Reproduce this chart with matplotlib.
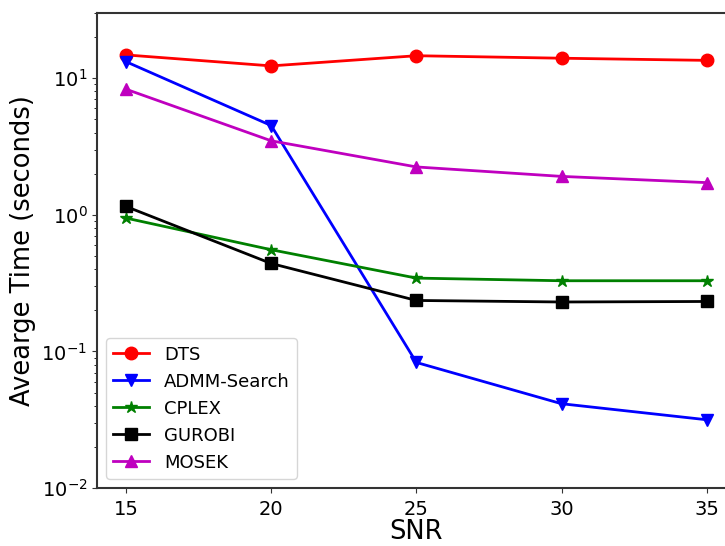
import matplotlib
matplotlib.use("Agg")
import matplotlib.pyplot as plt

snr = [15, 20, 25, 30, 35]
dts = [14.8, 12.3, 14.6, 14.0, 13.5]
admm = [13.2, 4.5, 0.083, 0.0414, 0.0316]
cplex = [0.946, 0.555, 0.344, 0.329, 0.329]
gurobi = [1.15, 0.44, 0.236, 0.23, 0.232]
mosek = [8.3, 3.48, 2.24, 1.91, 1.72]

fig = plt.figure(figsize=(7.25, 5.46), dpi=100)
# right edge of the axes runs past the figure, as in the reference
ax = fig.add_axes([0.1338, 0.1062, 0.881, 0.870])

ax.plot(snr, dts, color="r", marker="o", markersize=9, linewidth=2, label="DTS")
ax.plot(snr, admm, color="b", marker="v", markersize=9, linewidth=2, label="ADMM-Search")
ax.plot(snr, cplex, color="g", marker="*", markersize=9, linewidth=2, label="CPLEX")
ax.plot(snr, gurobi, color="k", marker="s", markersize=9, linewidth=2, label="GUROBI")
ax.plot(snr, mosek, color="m", marker="^", markersize=9, linewidth=2, label="MOSEK")

ax.set_yscale("log")
ax.set_ylim(0.01, 30)
ax.set_xlim(14, 36)
ax.set_xticks([15, 20, 25, 30, 35])

ax.set_xlabel("SNR", fontsize=18.5, labelpad=0)
ax.set_ylabel("Avearge Time (seconds)", fontsize=18.5)
ax.tick_params(labelsize=14, colors="#333333", labelcolor="black")
ax.tick_params(axis="x", pad=5)
for s in ax.spines.values():
    s.set_color("#333333")
    s.set_linewidth(1.5)

ax.legend(loc="lower left", fontsize=13)

fig.savefig("out.png", dpi=100)
